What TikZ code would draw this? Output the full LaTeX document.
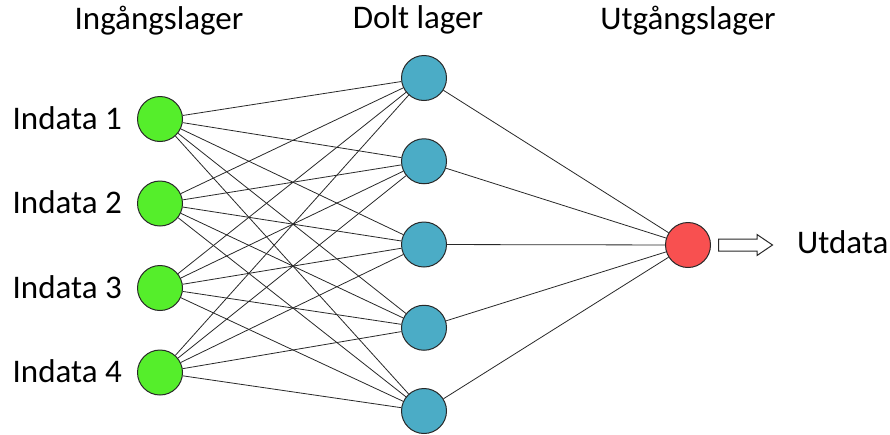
\documentclass[tikz,border=0pt]{standalone}
\usepackage{fontspec}
\setmainfont{Carlito}
\definecolor{ingreen}{RGB}{85,238,43}
\definecolor{hidblue}{RGB}{75,172,198}
\definecolor{outred}{RGB}{248,80,80}
\definecolor{edgegray}{RGB}{40,40,40}
\begin{document}
\begin{tikzpicture}[x=1pt,y=-1pt,
  neuron/.style={circle,draw=edgegray,line width=1pt,minimum size=45pt,inner sep=0pt},
  link/.style={draw=edgegray,line width=0.8pt},
  blockarrow/.style={draw=edgegray,fill=white,line width=1pt,line join=miter},
  lbl/.style={font=\fontsize{33}{36}\selectfont,inner sep=0pt,text=black}]
\useasboundingbox (0,0) rectangle (890,434);
% headers
\node[lbl,anchor=base] (h1) at (159,29) {Ingångslager};
\node[lbl,anchor=base] (h2) at (418,28) {Dolt lager};
\node[lbl,anchor=base] (h3) at (688,29) {Utgångslager};
% input neurons
\foreach \i/\y in {1/119,2/203.5,3/288,4/372.5}{
  \node[neuron,fill=ingreen] (in\i) at (160,\y) {};
  \node[lbl,anchor=base east] (lab\i) at (122,\y+10) {Indata \i};
}
% hidden neurons
\foreach \j/\y in {1/78,2/161.25,3/244.5,4/327.75,5/411}{
  \node[neuron,fill=hidblue] (hid\j) at (424,\y) {};
}
% output neuron
\node[neuron,fill=outred] (out) at (688,245) {};
% connections
\foreach \i in {1,...,4}{
  \foreach \j in {1,...,5}{
    \draw[link] (in\i) -- (hid\j);
  }
}
\foreach \j in {1,...,5}{
  \draw[link] (hid\j) -- (out);
}
% output arrow
\coordinate (arrtail) at (718.5,245);
\draw[blockarrow] (arrtail) ++(0,-6) -- ++(38.5,0) -- ++(0,-4.5) -- ++(15.5,10.5)
  -- ++(-15.5,10.5) -- ++(0,-4.5) -- ++(-38.5,0) -- cycle;
\node[lbl,anchor=base west] (utdata) at (797,253) {Utdata};
\end{tikzpicture}
\end{document}
